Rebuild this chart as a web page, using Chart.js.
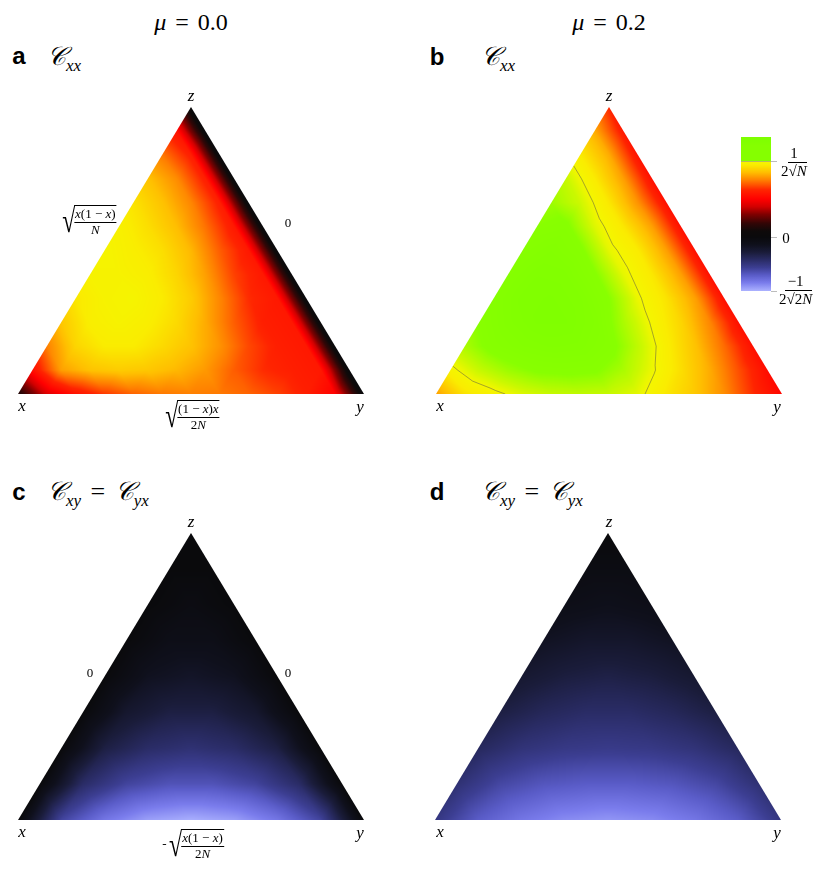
<!DOCTYPE html>
<html>
<head>
<meta charset="utf-8">
<script src="https://cdn.jsdelivr.net/npm/chart.js@4.4.1/dist/chart.umd.min.js"></script>
<style>
  body { margin: 0; background: #fff; width: 830px; height: 869px; position: relative; overflow: hidden;
         font-family: "Liberation Serif", "DejaVu Serif", serif; color: #000; }
  canvas { position: absolute; }
  .t { position: absolute; white-space: nowrap; line-height: 1; transform: translate(-50%, -50%); }
  .tv { position: absolute; white-space: nowrap; line-height: 1; transform: translate(0, -50%); }
  .tl { position: absolute; white-space: nowrap; line-height: 1; }
  .lt { font-family: "Liberation Sans", Arial, sans-serif; font-weight: bold; font-size: 24px; }
  .mu { font-size: 24px; word-spacing: 3px; }
  i { font-style: italic; }
  .ttl { font-size: 26px; word-spacing: 3px; }
  .ttl sub { font-size: 17px; font-style: italic; vertical-align: -6px; }
  .vx { font-style: italic; font-size: 17px; }
  .sm { font-size: 13px; }
  .frac { display: inline-flex; flex-direction: column; align-items: center; vertical-align: middle; }
  .frac > span { display: block; line-height: 1.1; }
  .frac > span:first-child { border-bottom: 0.8px solid #000; padding: 0 1px; }
  .rs { display: inline-block; vertical-align: middle; font-size: 34px; transform: scaleX(0.7); margin-right: -4px; }
  .rad { display: inline-block; vertical-align: middle; border-top: 0.8px solid #000; padding-top: 1px; }
  .cb { font-size: 15px; }
</style>
</head>
<body>
<canvas id="panelA" width="354" height="295" style="left:14px;top:103px"></canvas>
<canvas id="panelB" width="354" height="295" style="left:432px;top:103px"></canvas>
<canvas id="panelC" width="354" height="295" style="left:14px;top:529px"></canvas>
<canvas id="panelD" width="354" height="295" style="left:431px;top:529px"></canvas>
<canvas id="cbar" width="60" height="168" style="left:730px;top:130px"></canvas>

<div class="t mu" style="left:191px;top:22px"><i>μ</i> = 0.0</div>
<div class="t mu" style="left:609px;top:22px"><i>μ</i> = 0.2</div>

<div class="t lt" style="left:19px;top:56px">a</div>
<div class="t lt" style="left:437px;top:57px">b</div>
<div class="t lt" style="left:19px;top:492px">c</div>
<div class="t lt" style="left:437px;top:492px">d</div>

<div class="tl ttl" style="left:47px;top:44px"><i>𝒞</i><sub>xx</sub></div>
<div class="tl ttl" style="left:481px;top:44px"><i>𝒞</i><sub>xx</sub></div>
<div class="tl ttl" style="left:47px;top:479px"><i>𝒞</i><sub>xy</sub> = <i>𝒞</i><sub>yx</sub></div>
<div class="tl ttl" style="left:481px;top:479px"><i>𝒞</i><sub>xy</sub> = <i>𝒞</i><sub>yx</sub></div>

<div class="t vx" style="left:191px;top:95px">z</div>
<div class="t vx" style="left:22px;top:405px">x</div>
<div class="t vx" style="left:360px;top:406px">y</div>
<div class="t vx" style="left:609px;top:95px">z</div>
<div class="t vx" style="left:440px;top:405px">x</div>
<div class="t vx" style="left:777px;top:406px">y</div>
<div class="t vx" style="left:191px;top:521px">z</div>
<div class="t vx" style="left:22px;top:831px">x</div>
<div class="t vx" style="left:360px;top:832px">y</div>
<div class="t vx" style="left:609px;top:521px">z</div>
<div class="t vx" style="left:440px;top:831px">x</div>
<div class="t vx" style="left:777px;top:832px">y</div>

<div class="t sm" style="left:88px;top:221px"><span class="rs">√</span><span class="rad"><span class="frac"><span><i>x</i>(1 − <i>x</i>)</span><span><i>N</i></span></span></span></div>
<div class="t sm" style="left:288px;top:222px">0</div>
<div class="t sm" style="left:191px;top:416px"><span class="rs">√</span><span class="rad"><span class="frac"><span>(1 − <i>x</i>)<i>x</i></span><span>2<i>N</i></span></span></span></div>
<div class="t sm" style="left:90px;top:672px">0</div>
<div class="t sm" style="left:288px;top:672px">0</div>
<div class="t sm" style="left:193px;top:845px">-<span class="rs">√</span><span class="rad"><span class="frac"><span><i>x</i>(1 − <i>x</i>)</span><span>2<i>N</i></span></span></span></div>

<div class="tv cb" style="left:781px;top:162px"><span class="frac"><span style="padding:0 2px">1</span><span>2√<span style="border-top:0.8px solid #000"><i>N</i></span></span></span></div>
<div class="t cb" style="left:786px;top:238px">0</div>
<div class="tv cb" style="left:779px;top:290px"><span class="frac"><span style="padding:0 3px">−1</span><span>2√<span style="border-top:0.8px solid #000">2<i>N</i></span></span></span></div>

<script>
// correlation values in units of 1/(2*sqrt(N)), on a triangular grid
// row j = z level (0 = bottom edge x-y, last = z corner), entries run from x-z edge to y-z edge
const panelA = [
  [0.12, 0.42, 0.56, 0.65, 0.71, 0.74, 0.75, 0.74, 0.71, 0.66, 0.60, 0.50, 0.0],
  [0.55, 0.80, 0.86, 0.88, 0.87, 0.84, 0.79, 0.70, 0.63, 0.60, 0.58, 0.0],
  [0.75, 0.90, 0.95, 0.95, 0.91, 0.86, 0.78, 0.67, 0.60, 0.58, 0.0],
  [0.87, 0.96, 0.98, 0.96, 0.91, 0.82, 0.70, 0.60, 0.58, 0.0],
  [0.94, 0.98, 0.99, 0.95, 0.88, 0.76, 0.63, 0.58, 0.0],
  [0.98, 0.98, 0.96, 0.90, 0.80, 0.66, 0.58, 0.0],
  [0.99, 0.96, 0.92, 0.84, 0.70, 0.58, 0.0],
  [0.97, 0.92, 0.85, 0.73, 0.58, 0.0],
  [0.93, 0.86, 0.76, 0.60, 0.0],
  [0.86, 0.77, 0.60, 0.0],
  [0.74, 0.60, 0.0],
  [0.56, 0.0],
  [0.0]
];
const panelB = [
  [0.80, 0.93, 0.98, 1.03, 1.06, 1.07, 1.06, 1.02, 0.94, 0.87, 0.77, 0.63, 0.52],
  [0.98, 1.06, 1.12, 1.16, 1.17, 1.16, 1.10, 1.01, 0.92, 0.82, 0.68, 0.54],
  [1.10, 1.18, 1.22, 1.24, 1.23, 1.18, 1.07, 0.96, 0.86, 0.72, 0.55],
  [1.16, 1.23, 1.27, 1.27, 1.22, 1.10, 0.99, 0.90, 0.76, 0.55],
  [1.20, 1.26, 1.27, 1.24, 1.15, 1.01, 0.93, 0.80, 0.55],
  [1.20, 1.25, 1.24, 1.16, 1.02, 0.94, 0.80, 0.55],
  [1.18, 1.22, 1.17, 1.02, 0.95, 0.80, 0.55],
  [1.15, 1.17, 1.03, 0.94, 0.80, 0.55],
  [1.12, 1.05, 0.94, 0.78, 0.55],
  [1.06, 0.95, 0.80, 0.55],
  [0.95, 0.82, 0.56],
  [0.82, 0.58],
  [0.62]
];
const panelC = [
  [0.0, -0.42, -0.58, -0.67, -0.70, -0.67, -0.58, -0.42, 0.0],
  [0.0, -0.30, -0.42, -0.47, -0.47, -0.42, -0.30, 0.0],
  [0.0, -0.22, -0.30, -0.33, -0.30, -0.22, 0.0],
  [0.0, -0.16, -0.22, -0.22, -0.16, 0.0],
  [0.0, -0.11, -0.14, -0.11, 0.0],
  [0.0, -0.07, -0.07, 0.0],
  [0.0, -0.04, 0.0],
  [0.0, 0.0],
  [0.0]
];
const panelD = [
  [-0.36, -0.50, -0.58, -0.63, -0.65, -0.63, -0.58, -0.50, -0.36],
  [-0.33, -0.43, -0.48, -0.50, -0.50, -0.48, -0.43, -0.33],
  [-0.28, -0.34, -0.37, -0.38, -0.37, -0.34, -0.28],
  [-0.22, -0.27, -0.30, -0.30, -0.27, -0.22],
  [-0.17, -0.21, -0.23, -0.21, -0.17],
  [-0.12, -0.15, -0.15, -0.12],
  [-0.07, -0.09, -0.07],
  [-0.04, -0.04],
  [0.0]
];
const cbarRange = [-0.707, 1.316];
const cbarTicks = [1, 0, -0.707];
const contourLevel = 1;

// colour map: value -> rgb
const cmapStops = [
  [-0.707, [172, 178, 255]], [-0.6, [122, 124, 236]], [-0.5, [90, 92, 200]], [-0.4, [60, 62, 146]],
  [-0.3, [42, 44, 102]], [-0.2, [26, 28, 58]], [-0.1, [15, 16, 28]], [0.0, [10, 10, 12]],
  [0.08, [14, 10, 10]], [0.18, [50, 6, 6]], [0.3, [128, 0, 0]], [0.4, [210, 0, 0]],
  [0.5, [255, 0, 0]], [0.62, [255, 36, 0]], [0.75, [255, 128, 0]], [0.85, [255, 190, 0]],
  [0.95, [250, 236, 0]], [1.0, [244, 246, 0]], [1.05, [205, 248, 0]], [1.15, [136, 255, 0]],
  [1.4, [120, 255, 0]]
];
function cmap(v) {
  if (v <= cmapStops[0][0]) return cmapStops[0][1];
  for (let k = 1; k < cmapStops.length; k++) {
    const [v1, c1] = cmapStops[k];
    if (v <= v1) {
      const [v0, c0] = cmapStops[k - 1];
      const t = (v - v0) / (v1 - v0);
      return [0, 1, 2].map(m => c0[m] + (c1[m] - c0[m]) * t);
    }
  }
  return cmapStops[cmapStops.length - 1][1];
}

// linear interpolation inside the triangle cell of the grid
function sample(rows, gi, gj) {
  const n = rows.length - 1;
  const j0 = Math.min(Math.floor(gj), n - 1);
  const fj = gj - j0;
  const i0 = Math.max(0, Math.min(Math.floor(gi), n - 1 - j0));
  const fi = gi - i0;
  const g = (i, j) => rows[j][i];
  if (fi + fj <= 1 || i0 + j0 > n - 2) {
    return g(i0, j0) * (1 - fi - fj) + g(i0 + 1, j0) * fi + g(i0, j0 + 1) * fj;
  }
  return g(i0 + 1, j0 + 1) * (fi + fj - 1) + g(i0 + 1, j0) * (1 - fj) + g(i0, j0 + 1) * (1 - fi);
}

function contourSegments(rows, level) {
  const n = rows.length - 1;
  const pos = (i, j) => ({x: (i + j / 2) / n, y: j / n, v: rows[j][i]});
  const tris = [];
  for (let j = 0; j < n; j++) {
    for (let i = 0; i < n - j; i++) {
      tris.push([pos(i, j), pos(i + 1, j), pos(i, j + 1)]);
      if (i + j <= n - 2) tris.push([pos(i + 1, j), pos(i + 1, j + 1), pos(i, j + 1)]);
    }
  }
  const segs = [];
  tris.forEach(t => {
    const cross = [];
    for (let e = 0; e < 3; e++) {
      const a = t[e], b = t[(e + 1) % 3];
      if ((a.v - level) * (b.v - level) < 0) {
        const f = (level - a.v) / (b.v - a.v);
        cross.push({x: a.x + (b.x - a.x) * f, y: a.y + (b.y - a.y) * f});
      }
    }
    if (cross.length === 2) segs.push(cross);
  });
  return segs;
}

function heatPlugin(rows, withContour) {
  return {
    id: 'triHeat',
    beforeDatasetsDraw(chart) {
      const {ctx, chartArea: a, scales: {x: sx, y: sy}} = chart;
      const n = rows.length - 1;
      const w = Math.round(a.right - a.left), h = Math.round(a.bottom - a.top);
      const off = document.createElement('canvas');
      off.width = w; off.height = h;
      const octx = off.getContext('2d');
      const img = octx.createImageData(w, h);
      for (let py = 0; py < h; py++) {
        const z = Math.max(0, Math.min(1, sy.getValueForPixel(a.top + py + 0.5)));
        for (let px = 0; px < w; px++) {
          const xv = sx.getValueForPixel(a.left + px + 0.5);
          const y = Math.max(0, Math.min(1 - z, xv - z / 2));
          const c = cmap(sample(rows, y * n, z * n));
          const k = (py * w + px) * 4;
          img.data[k] = c[0]; img.data[k + 1] = c[1]; img.data[k + 2] = c[2]; img.data[k + 3] = 255;
        }
      }
      octx.putImageData(img, 0, 0);
      ctx.save();
      ctx.beginPath();
      ctx.moveTo(sx.getPixelForValue(0), sy.getPixelForValue(0));
      ctx.lineTo(sx.getPixelForValue(1), sy.getPixelForValue(0));
      ctx.lineTo(sx.getPixelForValue(0.5), sy.getPixelForValue(1));
      ctx.closePath();
      ctx.clip();
      ctx.drawImage(off, a.left, a.top);
      if (withContour) {
        ctx.strokeStyle = 'rgba(90,90,70,0.75)';
        ctx.lineWidth = 0.7;
        contourSegments(rows, contourLevel).forEach(s => {
          ctx.beginPath();
          ctx.moveTo(sx.getPixelForValue(s[0].x), sy.getPixelForValue(s[0].y));
          ctx.lineTo(sx.getPixelForValue(s[1].x), sy.getPixelForValue(s[1].y));
          ctx.stroke();
        });
      }
      ctx.restore();
    }
  };
}

function ternaryChart(id, rows, withContour) {
  const n = rows.length - 1;
  const pts = [];
  rows.forEach((row, j) => row.forEach((v, i) => pts.push({x: (i + j / 2) / n, y: j / n, v: v})));
  new Chart(document.getElementById(id), {
    type: 'scatter',
    data: {datasets: [{data: pts, pointRadius: 0, pointHoverRadius: 0}]},
    options: {
      responsive: false,
      animation: false,
      events: [],
      layout: {padding: 4},
      plugins: {legend: {display: false}, tooltip: {enabled: false}},
      scales: {
        x: {type: 'linear', min: 0, max: 1, display: false},
        y: {type: 'linear', min: 0, max: 1, display: false}
      }
    },
    plugins: [heatPlugin(rows, withContour)]
  });
}

ternaryChart('panelA', panelA, false);
ternaryChart('panelB', panelB, true);
ternaryChart('panelC', panelC, false);
ternaryChart('panelD', panelD, false);

// colour bar
new Chart(document.getElementById('cbar'), {
  type: 'bar',
  data: {labels: [''], datasets: [{data: [cbarRange], backgroundColor: 'rgba(0,0,0,0)', barPercentage: 1, categoryPercentage: 1}]},
  options: {
    responsive: false,
    animation: false,
    events: [],
    layout: {padding: {top: 7, bottom: 7, left: 11, right: 19}},
    plugins: {legend: {display: false}, tooltip: {enabled: false}},
    scales: {
      x: {display: false},
      y: {type: 'linear', min: cbarRange[0], max: cbarRange[1], display: false}
    }
  },
  plugins: [{
    id: 'cbarFill',
    afterDatasetsDraw(chart) {
      const {ctx, scales: {y: sy}} = chart;
      const bar = chart.getDatasetMeta(0).data[0];
      const left = bar.x - bar.width / 2, right = bar.x + bar.width / 2;
      const top = sy.getPixelForValue(cbarRange[1]), bottom = sy.getPixelForValue(cbarRange[0]);
      const grad = ctx.createLinearGradient(0, bottom, 0, top);
      for (let v = cbarRange[0]; v <= cbarRange[1] + 1e-9; v += 0.01) {
        const c = cmap(v > 1 ? Math.max(v, 1.2) : v);
        grad.addColorStop((v - cbarRange[0]) / (cbarRange[1] - cbarRange[0]), `rgb(${c.map(Math.round).join(',')})`);
      }
      ctx.save();
      ctx.fillStyle = grad;
      ctx.fillRect(left, top, right - left, bottom - top);
      ctx.strokeStyle = 'rgba(150,150,150,0.8)';
      ctx.lineWidth = 0.8;
      cbarTicks.forEach(v => {
        const y = Math.round(sy.getPixelForValue(v)) + 0.5;
        ctx.beginPath();
        ctx.moveTo(v === 1 ? left : right, y);
        ctx.lineTo(right + 6, y);
        ctx.stroke();
      });
      ctx.restore();
    }
  }]
});
</script>
</body>
</html>
